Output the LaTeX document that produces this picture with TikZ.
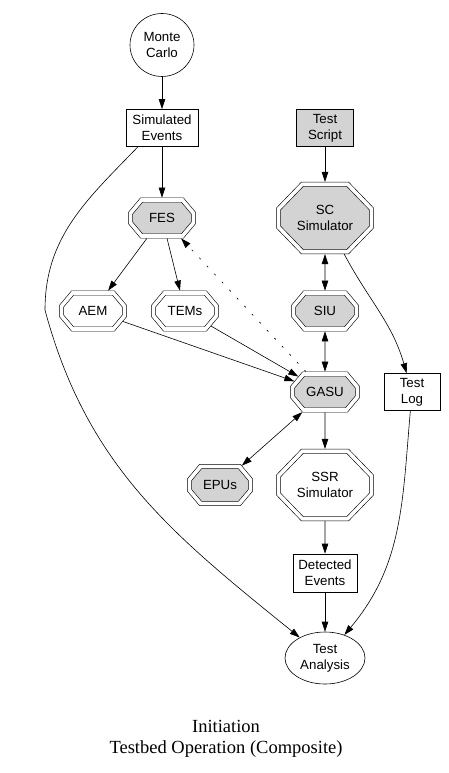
\documentclass[tikz,border=0pt]{standalone}
\usepackage{fontspec}
\setmainfont{Liberation Sans}
\newfontfamily\capfont{Liberation Serif}
\usetikzlibrary{shapes.geometric,shapes.misc,arrows.meta}
\definecolor{nodeGray}{RGB}{211,211,211}

\tikzset{
  lbl/.style={font=\fontsize{13.3}{16}\selectfont, align=center, inner sep=0pt},
  oval/.style={lbl, ellipse, draw, line width=0.6pt},
  datbox/.style={lbl, rectangle, draw, line width=0.6pt, fill=white},
  dbloct/.style={lbl, chamfered rectangle, draw, double, double distance=3.6pt,
    line width=0.6pt, fill=white, outer sep=2.4pt,
    chamfered rectangle angle=40, chamfered rectangle ysep=9pt,
    minimum width=63pt, minimum height=36pt},
  bigoct/.style={dbloct, chamfered rectangle angle=44, chamfered rectangle ysep=21pt,
    minimum width=93pt, minimum height=59pt},
  edge/.style={-{Triangle[length=10pt,width=6.5pt]}, line width=0.6pt},
  twoway/.style={{Triangle[length=10pt,width=6.5pt]}-{Triangle[length=10pt,width=6.5pt]}, line width=0.6pt}
}

\begin{document}
\begin{tikzpicture}[x=1pt,y=1pt]
  \useasboundingbox (0,0) rectangle (448,-773);

  % left column
  \node[oval, minimum width=64pt, minimum height=63pt] (mc) at (162,-45) {Monte\\Carlo};
  \node[datbox, minimum width=72pt, minimum height=37pt] (sim) at (162,-128) {Simulated\\Events};
  \node[dbloct, fill=nodeGray] (fes) at (162,-218) {FES};
  \node[dbloct] (aem) at (93,-311) {AEM};
  \node[dbloct] (tems) at (185,-311) {TEMs};
  \node[dbloct, fill=nodeGray, minimum width=61pt, minimum height=37pt] (epus) at (220,-485) {EPUs};

  % right column
  \node[datbox, fill=nodeGray, minimum width=57pt, minimum height=37pt] (ts) at (325,-128) {Test\\Script};
  \node[bigoct, fill=nodeGray] (sc) at (325,-218) {SC\\Simulator};
  \node[dbloct, fill=nodeGray] (siu) at (325,-311) {SIU};
  \node[dbloct, fill=nodeGray, minimum width=65pt] (gasu) at (325,-392) {GASU};
  \node[datbox, minimum width=56pt, minimum height=37pt] (tlog) at (412,-392) {Test\\Log};
  \node[bigoct] (ssr) at (325,-485) {SSR\\Simulator};
  \node[datbox, minimum width=64pt, minimum height=38pt] (de) at (325,-573) {Detected\\Events};
  \node[oval, minimum width=80pt, minimum height=52pt] (ta) at (325,-658) {Test\\Analysis};
  \coordinate (lbend) at (45,-310);

  \node[font=\capfont\fontsize{18.5}{21.5}\selectfont, align=center] (cap) at (226,-739)
    {Initiation\\Testbed Operation (Composite)};

  % edges
  \draw[edge] (mc) -- (sim);
  \draw[edge] (sim) -- (fes);
  \draw[edge] (sim.218) to[out=226,in=90] (lbend) to[out=-75,in=141] (ta);
  \draw[edge] (fes) -- (aem);
  \draw[edge] (fes) -- (tems);
  \draw[edge] (aem) -- (gasu);
  \draw[edge] (tems) -- (gasu);
  \draw[edge, dash pattern=on 2pt off 9pt] (gasu) -- (fes);
  \draw[twoway] (gasu) -- (epus);
  \draw[edge] (ts) -- (sc);
  \draw[twoway] (sc) -- (siu);
  \draw[twoway] (siu) -- (gasu);
  \draw[edge] (sc) to[out=-62,in=106] (tlog);
  \draw[edge] (gasu) -- (ssr);
  \draw[edge] (ssr) -- (de);
  \draw[edge] (de) -- (ta);
  \draw[edge] (tlog) to[out=-95,in=50] (ta);
\end{tikzpicture}
\end{document}
